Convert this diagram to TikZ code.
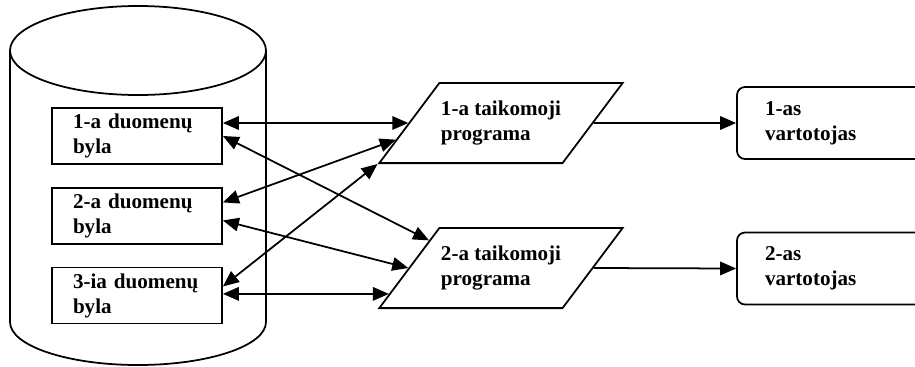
\documentclass[tikz,border=0pt]{standalone}
\usepackage{fontspec}
\setmainfont{Liberation Serif}
\usetikzlibrary{shapes.geometric,arrows.meta}
\hyphenpenalty=10000

\begin{document}
\begin{tikzpicture}[line width=1pt,>={Triangle[length=0.32cm,width=0.27cm]},
    font=\fontsize{12}{14.2}\selectfont\bfseries]

      \clip (0,0) rectangle (18.3,7.32);

      % duomenu baze
      \draw (0.2,6.31) -- (0.2,0.88) arc[start angle=180,end angle=360,x radius=2.56,y radius=0.86] -- (5.32,6.31);
      \draw (2.76,6.31) ellipse [x radius=2.56,y radius=0.89];

      \begin{scope}[every node/.style={rectangle,draw,text width=2.56cm,inner xsep=0.42cm,
          minimum height=1.12cm,align=left}]
        \node (b1) at (2.74,4.6)  {1-a duomenų\\byla};
        \node (b2) at (2.74,3.0)  {2-a duomenų\\byla};
        \node (b3) at (2.74,1.41) {3-ia duomenų\\byla};
      \end{scope}

      \begin{scope}[every node/.style={trapezium,draw,trapezium left angle=53.13,
          trapezium right angle=126.87,inner xsep=0.03cm,inner ysep=0.36cm,align=left}]
        \node (p1) at (10.02,4.86) {1-a taikomoji\\programa};
        \node (p2) at (10.02,1.96) {2-a taikomoji\\programa};
      \end{scope}

      \begin{scope}[every node/.style={rectangle,draw,rounded corners=0.16cm,text width=3cm,
          inner xsep=0.56cm,minimum height=1.44cm,align=left}]
        \node (u1) at (16.8,4.86) {1-as\\vartotojas};
        \node (u2) at (16.8,1.95) {2-as\\vartotojas};
      \end{scope}

      \begin{scope}[every edge/.style={draw,<->}]
        \path (b1.east |- p1.west) edge (p1.west);
        \path (b1.east) edge (p2.159);
        \path (b2.9)    edge (p1.189);
        \path (b2.-3)   edge (p2.west);
        \path (b3.6)    edge (p1.bottom left corner);
        \path (b3.east |- p2.193) edge (p2.193);
      \end{scope}

      \draw[->] (p1.east) -- (u1.west);
      \draw[->] (p2.east) -- (u2.west);

    \end{tikzpicture}
\end{document}
